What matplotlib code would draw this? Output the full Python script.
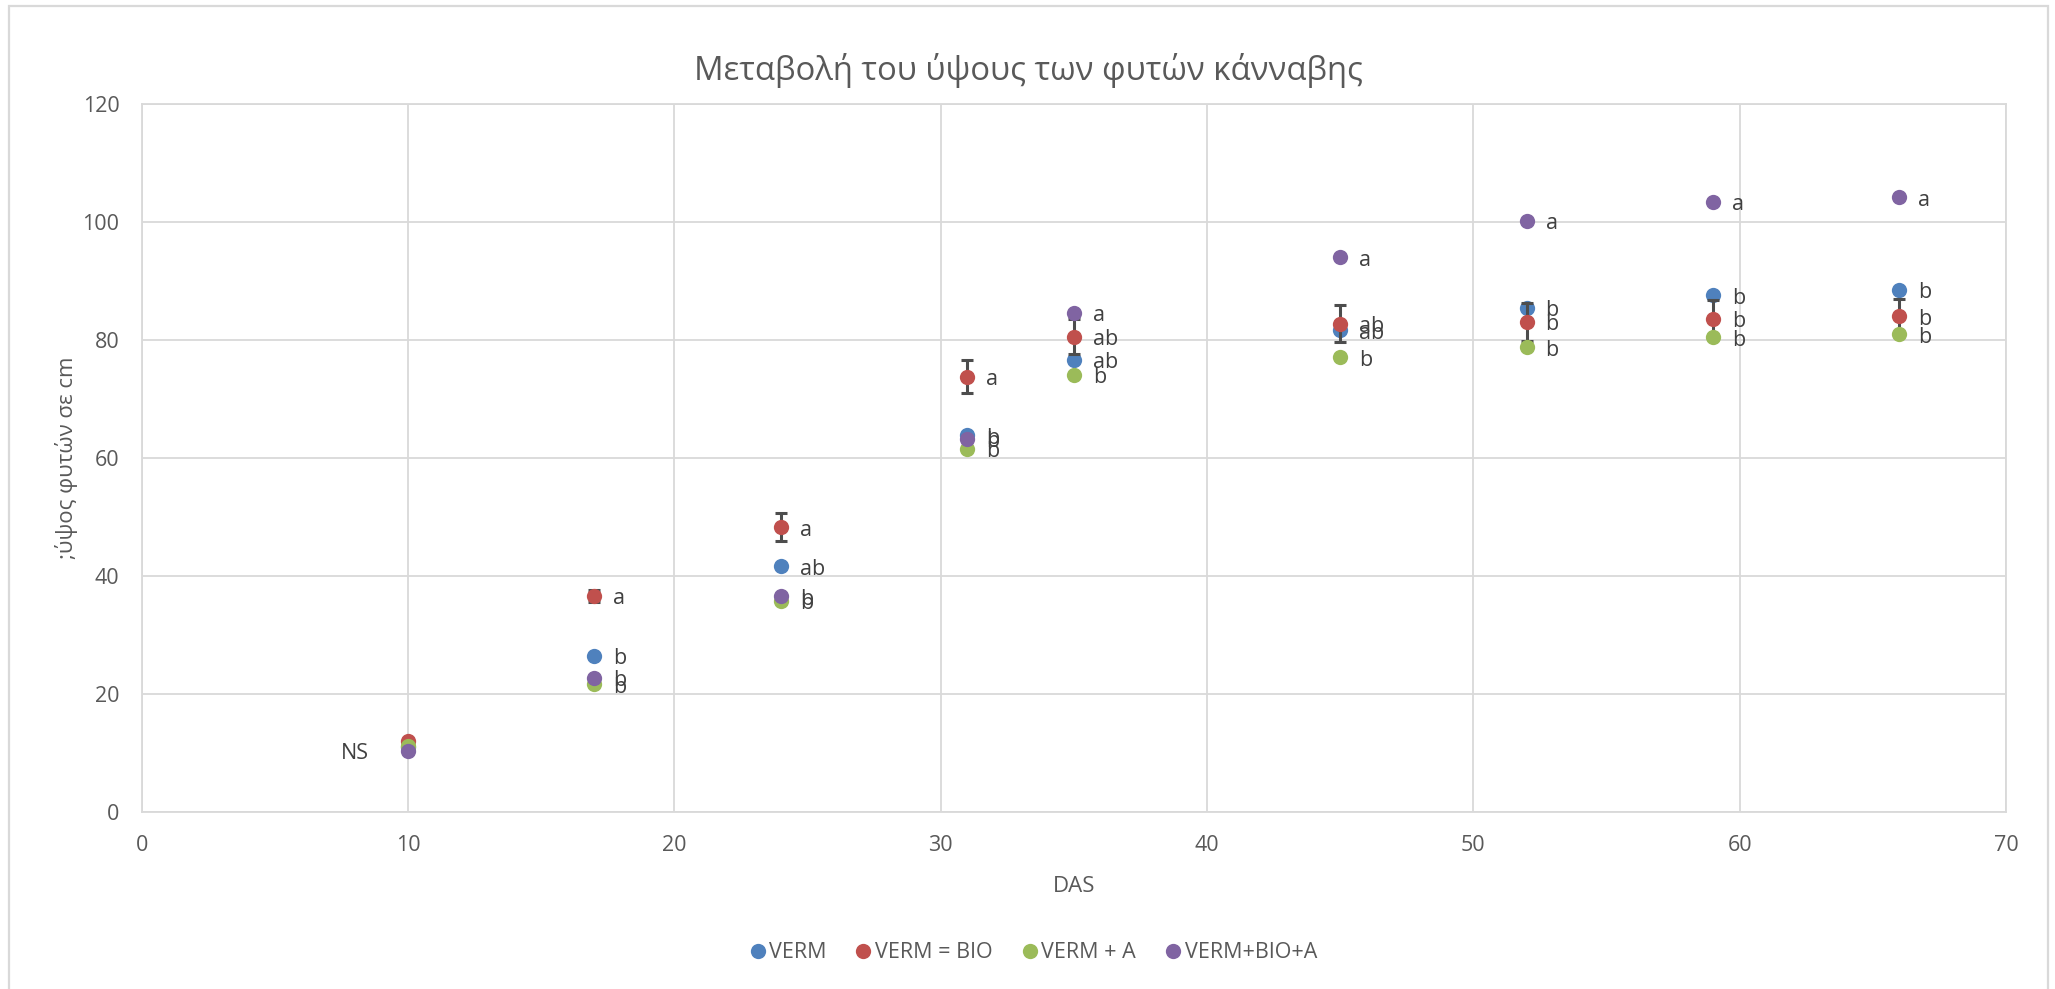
import matplotlib
matplotlib.use("Agg")
import matplotlib.pyplot as plt
from matplotlib.patches import Rectangle
from matplotlib.lines import Line2D

plt.rcParams['font.family'] = ['Open Sans', 'DejaVu Sans']

# ---- data ----
das = [10, 17, 24, 31, 35, 45, 52, 59, 66]
verm = [11.0, 26.5, 41.7, 63.9, 76.7, 81.7, 85.5, 87.6, 88.5]
verm_bio = [12.0, 36.7, 48.3, 73.8, 80.6, 82.8, 83.1, 83.6, 84.0]
verm_a = [11.2, 21.7, 35.8, 61.6, 74.1, 77.1, 78.8, 80.5, 81.0]
verm_bio_a = [10.4, 22.8, 36.6, 63.3, 84.6, 94.0, 100.2, 103.4, 104.2]
verm_bio_err = [0.3, 1.0, 2.4, 2.8, 3.0, 3.1, 3.2, 3.2, 3.0]

lab_verm = ['', 'b', 'ab', 'b', 'ab', 'ab', 'b', 'b', 'b']
lab_verm_bio = ['', 'a', 'a', 'a', 'ab', 'ab', 'b', 'b', 'b']
lab_verm_a = ['', 'b', 'b', 'b', 'b', 'b', 'b', 'b', 'b']
lab_verm_bio_a = ['NS', 'b', 'b', 'b', 'a', 'a', 'a', 'a', 'a']

series_names = ['VERM', 'VERM = BIO', 'VERM + A', 'VERM+BIO+A']
colors = ['#4F81BD', '#C0504D', '#9BBB59', '#8064A2']

title = 'Μεταβολή του ύψους των φυτών κάνναβης'
xlabel = 'DAS'
ylabel = ';ύψος φυτών σε cm'

TXT = '#595959'
GRID = '#D9D9D9'

W, H = 2055, 989
fig = plt.figure(figsize=(W / 100, H / 100), dpi=100)
fig.patch.set_facecolor('white')

# outer chart border
fig.add_artist(Rectangle((8.7 / W, -0.01), (2047.7 - 8.7) / W, 1 - 6 / H + 0.01,
                         transform=fig.transFigure, fill=False,
                         edgecolor=GRID, linewidth=1.6))

left, right, top, bottom = 141.7, 2006, 104, 812.3
ax = fig.add_axes([left / W, 1 - bottom / H, (right - left) / W, (bottom - top) / H])

ax.set_xlim(0, 70)
ax.set_ylim(0, 120)
ax.set_xticks(range(0, 71, 10))
ax.set_yticks(range(0, 121, 20))
ax.grid(True, color=GRID, linewidth=1.3, zorder=0)
for s in ax.spines.values():
    s.set_color(GRID)
    s.set_linewidth(1.3)
ax.tick_params(length=0, labelsize=15.5, labelcolor=TXT, pad=16)
ax.set_axisbelow(True)

data = [verm, verm_bio, verm_a, verm_bio_a]
labels = [lab_verm, lab_verm_bio, lab_verm_a, lab_verm_bio_a]

for i, (vals, col) in enumerate(zip(data, colors)):
    z = 3 + i
    if i == 1:
        ax.errorbar(das, vals, yerr=verm_bio_err, fmt='none', ecolor='#4D4D4D',
                    elinewidth=2.2, capsize=4.3, capthick=2.2, zorder=z - 0.5)
    ax.plot(das, vals, linestyle='none', marker='o', markersize=11,
            color=col, markeredgewidth=0, zorder=z, label=series_names[i])

for i, (vals, labs) in enumerate(zip(data, labels)):
    for x, y, t in zip(das, vals, labs):
        if not t:
            continue
        if t == 'NS':
            ax.annotate(t, (x, y), xytext=(-39, -8.5), textcoords='offset pixels',
                        ha='right', va='baseline', fontsize=15.5, color='#404040', zorder=10)
        else:
            ax.annotate(t, (x, y), xytext=(19, -8.5), textcoords='offset pixels',
                        ha='left', va='baseline', fontsize=15.5, color='#404040', zorder=10)

fig.text(1028 / W, 1 - 80 / H, title, ha='center', va='baseline', fontsize=23.7, color=TXT)
fig.text(1074 / W, 1 - 891.7 / H, xlabel, ha='center', va='baseline', fontsize=16, color=TXT)
fig.text(67 / W, 1 - 458 / H, ylabel, ha='center', va='center', rotation=90,
         fontsize=16, color=TXT)

handles = [Line2D([], [], linestyle='none', marker='o', markersize=11,
                  color=c, markeredgewidth=0) for c in colors]
fig.legend(handles, series_names, loc='center', bbox_to_anchor=(1034 / W, 1 - 953 / H),
           ncol=4, frameon=False, fontsize=15.5, labelcolor=TXT, handlelength=0.6,
           handletextpad=0.25, columnspacing=1.4)

fig.savefig('out.png', dpi=100)
